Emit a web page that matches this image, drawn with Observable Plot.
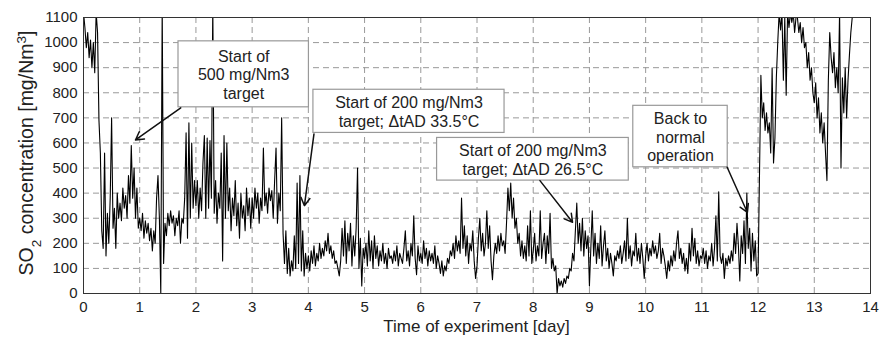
<!DOCTYPE html>
<html><head><meta charset="utf-8">
<script src="https://cdn.jsdelivr.net/npm/d3@7"></script>
<script src="https://cdn.jsdelivr.net/npm/@observablehq/plot@0.6"></script>
<style>body{margin:0;background:#fff;} #chart svg{display:block;}</style>
</head><body><div id="chart"></div>
<script>
// Sampling interval of the record, in days
const step = 0.025;
// SO2 concentration [mg/Nm3], one array per day of experiment (40 samples per day)
const d0 = [1120,1060,980,1040,940,1010,900,1000,880,1120,1040,690,560,250,180,560,150,320,200,380,700,260,340,180,400,300,360,290,420,340,390,300,470,360,590,380,500,300,420,260];
const d1 = [300,250,320,220,290,240,280,210,260,170,250,200,380,470,300,0,1150,120,280,230,320,270,330,280,310,230,300,270,330,200,300,280,380,640,220,680,300,600,340,450];
const d2 = [350,450,300,420,330,520,630,300,620,340,610,380,1150,320,450,280,400,340,560,130,630,300,600,330,420,250,380,310,450,270,360,220,400,300,350,250,420,310,380,260];
const d3v = [380,300,420,340,400,280,380,330,580,350,400,320,420,370,410,300,450,580,280,400,330,700,240,120,250,80,180,70,130,90,230,100,440,120,470,90,250,70,160,100];
const d4 = [150,90,170,120,190,110,160,130,200,140,180,150,210,170,240,160,190,140,170,120,130,100,70,130,260,150,290,120,240,170,280,110,230,150,260,500,100,220,30,180];
const d5 = [140,200,110,250,130,210,100,230,140,190,110,170,130,200,120,160,100,180,140,150,120,170,130,190,110,160,140,120,180,250,130,170,110,200,150,310,140,75,190,130];
const d6 = [160,120,210,140,180,110,170,130,160,120,190,100,150,120,80,130,70,110,90,140,120,170,150,200,140,230,170,210,160,380,180,270,150,230,120,200,170,250,130,60];
const d7 = [110,220,300,170,240,150,200,330,180,270,130,55,150,200,160,230,170,240,190,210,160,280,420,330,440,300,380,260,300,200,240,150,210,140,190,130,270,150,330,120];
const d8 = [170,240,130,190,150,330,140,200,240,120,230,160,320,100,140,90,110,0,60,30,50,25,60,40,70,60,100,90,160,130,250,360,200,280,170,300,150,250,180,230];
const d9 = [30,180,330,150,240,120,200,140,270,110,190,250,130,180,100,160,120,70,150,130,170,140,190,120,160,210,130,300,140,190,110,170,150,240,130,180,120,200,140,60];
const d10 = [150,200,130,180,150,210,160,190,140,170,240,120,180,150,110,60,130,90,150,110,170,130,200,250,140,180,120,160,90,140,80,200,130,260,150,220,120,170,110,150];
const d11 = [140,180,120,170,100,150,130,200,110,180,310,130,405,150,120,160,60,140,110,150,120,170,130,240,160,280,190,50,230,160,290,120,400,180,260,90,240,130,210,70];
const d12 = [80,470,870,700,760,650,720,640,680,560,900,520,620,860,1000,1120,1050,1120,850,1100,790,1120,1060,1120,1080,1120,1040,1100,1100,1040,1080,1000,1060,980,1000,900,960,850,900,800];
const d13 = [760,840,700,780,640,720,600,680,560,450,850,1040,940,880,960,820,900,800,1120,500,860,720,900,700,850,950,1040,1100,1150];

// Axis ticks
const xTicks = [0,1,2,3,4,5,6,7,8,9,10,11,12,13,14];
const yTicks = [0,100,200,300,400,500,600,700,800,900,1000,1100];

// Annotations (data units: day / mg/Nm3)
const noteLabels = ["Start of\n500 mg/Nm3\ntarget", "Start of 200 mg/Nm3\ntarget; \u0394tAD 33.5\u00B0C", "Start of 200 mg/Nm3\ntarget; \u0394tAD 26.5\u00B0C", "Back to\nnormal\noperation"];
const boxLeft = [1.69, 4.09, 6.29, 9.78];
const boxRight = [4.01, 7.49, 9.70, 11.46];
const boxTop = [1005, 812, 620, 748];
const boxBottom = [742, 640, 450, 503];
const arrowFromDay = [1.73, 4.10, 8.12, 11.45];
const arrowFromVal = [740, 636, 450, 503];
const arrowToDay = [0.925, 3.93, 8.70, 11.81];
const arrowToVal = [612, 350, 284, 323];

const days = [d0,d1,d2,d3v,d4,d5,d6,d7,d8,d9,d10,d11,d12,d13];
const series = days.flatMap((vals, d) => vals.map((v, k) => ({day: d + k * step, so2: v})));
const notes = noteLabels.map((label, i) => ({
  label, left: boxLeft[i], right: boxRight[i], top: boxTop[i], bottom: boxBottom[i],
  fromDay: arrowFromDay[i], fromVal: arrowFromVal[i], toDay: arrowToDay[i], toVal: arrowToVal[i]
}));

const font = "'Liberation Sans', Arial, Helvetica, sans-serif";
const chart = Plot.plot({
  width: 881, height: 338,
  marginLeft: 83, marginRight: 11, marginTop: 17, marginBottom: 45,
  style: {fontFamily: font, color: "#222", background: "white"},
  x: {domain: [0, 14], label: null},
  y: {domain: [0, 1100], label: null},
  marks: [
    Plot.gridX(xTicks, {stroke: "#999", strokeOpacity: 1, strokeDasharray: "6,4"}),
    Plot.gridY(yTicks, {stroke: "#999", strokeOpacity: 1, strokeDasharray: "6,4"}),
    Plot.line(series, {x: "day", y: "so2", stroke: "#000", strokeWidth: 1.1, clip: true}),
    Plot.rect(notes, {x1: "left", x2: "right", y1: "bottom", y2: "top", fill: "white", stroke: "#999", strokeWidth: 1.2}),
    Plot.text(notes, {x: d => (d.left + d.right) / 2, y: d => (d.top + d.bottom) / 2, text: "label", fontSize: 16, lineHeight: 1.17, fill: "#222"}),
    Plot.arrow(notes, {x1: "fromDay", y1: "fromVal", x2: "toDay", y2: "toVal", stroke: "#111", strokeWidth: 1.5, headLength: 9}),
    Plot.frame({stroke: "#333", strokeWidth: 1}),
    Plot.axisX(xTicks, {tickSize: 0, tickPadding: 8, fontSize: 15, label: null, tickFormat: d => String(d)}),
    Plot.axisY(yTicks, {tickSize: 0, tickPadding: 6, fontSize: 15, label: null, tickFormat: d => String(d)})
  ]
});

const NS = "http://www.w3.org/2000/svg";
function svgEl(tag, attrs, text) {
  const el = document.createElementNS(NS, tag);
  for (const k in attrs) el.setAttribute(k, attrs[k]);
  if (text != null) el.textContent = text;
  return el;
}
chart.appendChild(svgEl("text", {x: 476.5, y: 332, "text-anchor": "middle", "font-family": font, "font-size": 17, fill: "#222"}, "Time of experiment [day]"));
const yl = svgEl("text", {transform: "translate(33,153) rotate(-90)", "text-anchor": "middle", "font-family": font, "font-size": 19.5, fill: "#222"});
yl.appendChild(svgEl("tspan", {}, "SO"));
yl.appendChild(svgEl("tspan", {"baseline-shift": "sub", "font-size": 13.5}, "2"));
yl.appendChild(svgEl("tspan", {}, " concentration [mg/Nm"));
yl.appendChild(svgEl("tspan", {"baseline-shift": "super", "font-size": 13.5}, "3"));
yl.appendChild(svgEl("tspan", {}, "]"));
chart.appendChild(yl);

document.getElementById("chart").appendChild(chart);
</script>
</body></html>
